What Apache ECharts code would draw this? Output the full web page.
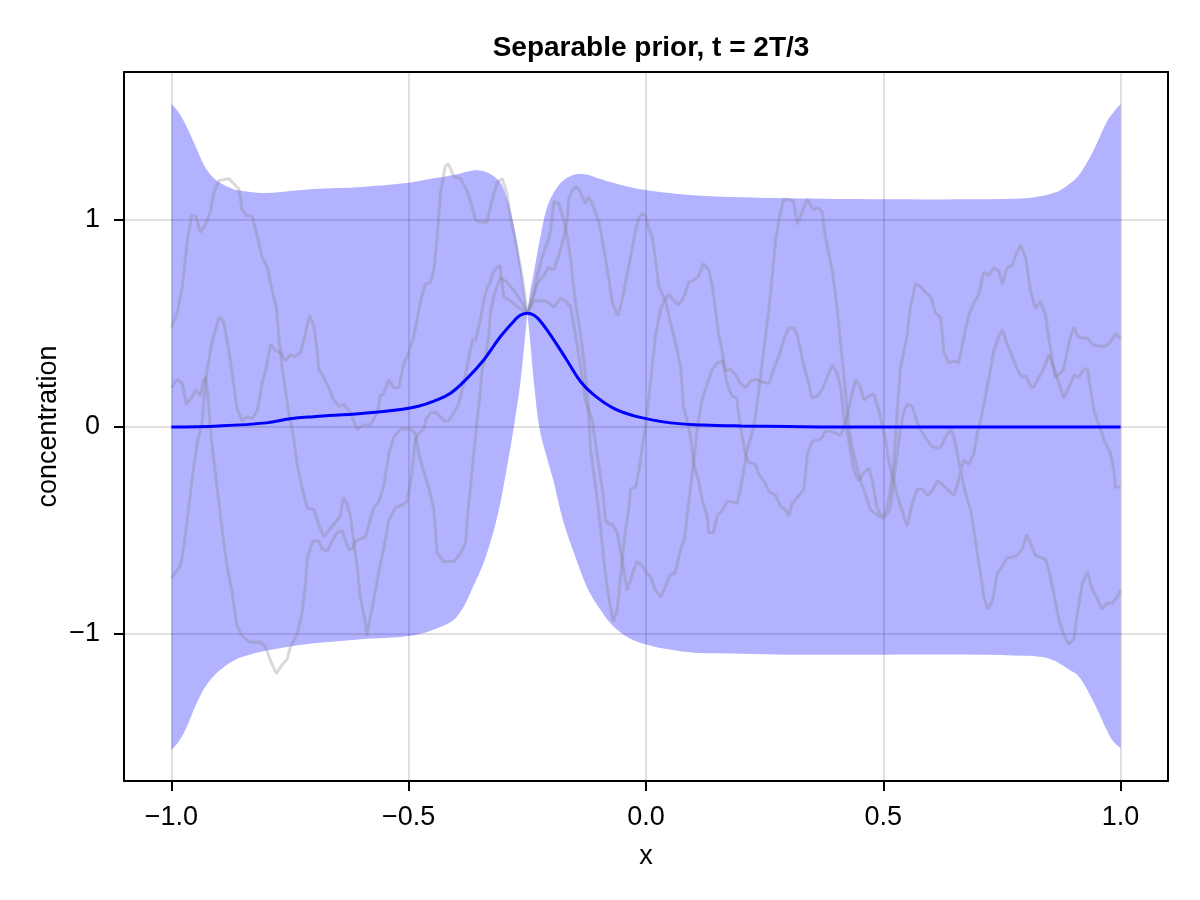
<!DOCTYPE html>
<html>
<head>
<meta charset="utf-8">
<script src="https://cdn.jsdelivr.net/npm/echarts@6/dist/echarts.min.js"></script>
<style>
  html, body { margin: 0; padding: 0; background: #fff; }
  #chart { width: 1200px; height: 900px; }
</style>
</head>
<body>
<div id="chart"></div>
<script>
// tick values
var xTicks = [-1, -0.5, 0, 0.5, 1];
var yTicks = [-1, 0, 1];

// uncertainty band (lower / upper) at shared x; pinches at x = -0.25
var bandX = [-1.00, -0.985, -0.97, -0.95, -0.93, -0.91, -0.89, -0.87, -0.85, -0.80, -0.75, -0.70, -0.60, -0.50, -0.45, -0.40, -0.36, -0.335, -0.31, -0.295, -0.28, -0.265, -0.25, -0.245, -0.236, -0.225, -0.21, -0.195, -0.175, -0.15, -0.125, -0.10, -0.07, -0.035, 0.00, 0.05, 0.10, 0.20, 0.30, 0.50, 0.70, 0.80, 0.83, 0.85, 0.87, 0.89, 0.91, 0.93, 0.95, 0.97, 0.985, 1.00];
var bandHi = [1.56, 1.52, 1.46, 1.36, 1.26, 1.20, 1.17, 1.15, 1.14, 1.13, 1.14, 1.15, 1.16, 1.18, 1.20, 1.22, 1.24, 1.23, 1.19, 1.12, 0.99, 0.79, 0.55, 0.64, 0.75, 0.89, 1.05, 1.13, 1.19, 1.22, 1.22, 1.20, 1.18, 1.16, 1.145, 1.13, 1.12, 1.11, 1.105, 1.10, 1.10, 1.105, 1.115, 1.125, 1.14, 1.17, 1.21, 1.28, 1.37, 1.47, 1.52, 1.56];
var bandLo = [-1.56, -1.52, -1.46, -1.35, -1.26, -1.20, -1.16, -1.13, -1.11, -1.08, -1.06, -1.045, -1.025, -1.01, -0.98, -0.92, -0.75, -0.61, -0.40, -0.22, -0.02, 0.21, 0.55, 0.44, 0.21, 0.00, -0.14, -0.26, -0.45, -0.62, -0.77, -0.87, -0.96, -1.02, -1.05, -1.075, -1.09, -1.095, -1.10, -1.10, -1.10, -1.105, -1.11, -1.12, -1.14, -1.17, -1.20, -1.27, -1.36, -1.46, -1.52, -1.55];
var pinchIndex = 22;

// posterior mean
var meanX = [-1.0, -0.9, -0.8, -0.75, -0.7, -0.6, -0.517, -0.48, -0.447, -0.412, -0.377, -0.342, -0.307, -0.279, -0.265, -0.25, -0.236, -0.222, -0.194, -0.166, -0.138, -0.11, -0.068, -0.019, 0.052, 0.12, 0.2, 0.3, 0.4, 0.6, 0.8, 1.0];
var meanY = [0.0, 0.005, 0.02, 0.04, 0.05, 0.065, 0.085, 0.10, 0.125, 0.163, 0.235, 0.324, 0.436, 0.51, 0.54, 0.55, 0.54, 0.51, 0.42, 0.32, 0.22, 0.155, 0.09, 0.05, 0.02, 0.01, 0.005, 0.002, 0, 0, 0, 0];

// prior samples, [x, y]
var sample1 = [[-1.000,0.48],[-0.988,0.55],[-0.977,0.68],[-0.967,0.89],[-0.958,1.02],[-0.949,1.02],[-0.939,0.94],[-0.928,0.98],[-0.918,1.04],[-0.911,1.13],[-0.900,1.19],[-0.879,1.20],[-0.858,1.15],[-0.851,1.05],[-0.840,1.02],[-0.830,1.02],[-0.819,0.92],[-0.809,0.82],[-0.798,0.77],[-0.788,0.66],[-0.779,0.58],[-0.774,0.44],[-0.767,0.29],[-0.760,0.18],[-0.753,0.07],[-0.746,-0.01],[-0.742,-0.06],[-0.735,-0.18],[-0.725,-0.29],[-0.714,-0.39],[-0.700,-0.40],[-0.690,-0.47],[-0.679,-0.53],[-0.669,-0.50],[-0.654,-0.46],[-0.644,-0.43],[-0.638,-0.34],[-0.630,-0.37],[-0.623,-0.43],[-0.616,-0.55],[-0.609,-0.67],[-0.602,-0.82],[-0.591,-0.95],[-0.588,-1.01],[-0.581,-0.92],[-0.570,-0.79],[-0.560,-0.66],[-0.553,-0.59],[-0.542,-0.45],[-0.528,-0.39],[-0.517,-0.38],[-0.503,-0.36],[-0.493,-0.22],[-0.486,-0.06],[-0.479,-0.03],[-0.468,-0.01],[-0.465,0.03],[-0.454,0.07],[-0.444,0.07],[-0.433,0.05],[-0.426,0.03],[-0.416,0.03],[-0.405,0.07],[-0.395,0.11],[-0.384,0.21],[-0.373,0.34],[-0.366,0.42],[-0.359,0.42],[-0.349,0.52],[-0.342,0.61],[-0.335,0.67],[-0.328,0.70],[-0.324,0.74],[-0.314,0.77],[-0.308,0.78],[-0.303,0.69],[-0.300,0.63],[-0.286,0.61],[-0.271,0.58],[-0.250,0.55],
  [-0.236,0.64],[-0.227,0.70],[-0.216,0.73],[-0.205,0.77],[-0.194,0.76],[-0.187,0.81],[-0.180,0.86],[-0.173,0.92],[-0.166,1.00],[-0.163,1.10],[-0.156,1.14],[-0.149,1.16],[-0.142,1.15],[-0.134,1.11],[-0.128,1.08],[-0.121,1.11],[-0.113,1.08],[-0.106,1.03],[-0.099,0.99],[-0.092,0.90],[-0.085,0.81],[-0.078,0.71],[-0.071,0.60],[-0.064,0.56],[-0.059,0.54],[-0.054,0.58],[-0.047,0.65],[-0.040,0.74],[-0.029,0.86],[-0.022,0.95],[-0.015,1.01],[-0.008,1.03],[-0.001,1.02],[0.006,0.96],[0.013,0.92],[0.020,0.81],[0.027,0.68],[0.041,0.61],[0.052,0.50],[0.062,0.41],[0.073,0.29],[0.079,0.10],[0.090,0.00],[0.094,-0.05],[0.101,-0.18],[0.111,-0.26],[0.118,-0.35],[0.129,-0.43],[0.132,-0.51],[0.142,-0.51],[0.150,-0.43],[0.161,-0.40],[0.171,-0.36],[0.182,-0.36],[0.192,-0.37],[0.199,-0.30],[0.206,-0.21],[0.213,-0.11],[0.227,0.00],[0.238,0.18],[0.248,0.37],[0.259,0.57],[0.266,0.73],[0.273,0.90],[0.280,1.00],[0.290,1.10],[0.301,1.10],[0.311,1.09],[0.319,0.98],[0.326,1.02],[0.333,1.06],[0.340,1.10],[0.347,1.07],[0.354,1.05],[0.361,1.06],[0.371,1.04],[0.378,0.92],[0.385,0.84],[0.392,0.76],[0.399,0.65],[0.406,0.50],[0.413,0.34],[0.420,0.18],[0.427,0.00],[0.435,-0.10],[0.442,-0.17],[0.452,-0.26],[0.463,-0.33],[0.473,-0.40],[0.491,-0.43],[0.501,-0.44],[0.508,-0.42],[0.515,-0.39],[0.519,-0.32],[0.522,-0.26],[0.529,-0.14],[0.536,-0.01],[0.543,0.07],[0.550,0.11],[0.561,0.10],[0.572,0.02],[0.578,-0.01],[0.589,-0.05],[0.600,-0.09],[0.610,-0.10],[0.621,-0.10],[0.631,-0.05],[0.642,-0.01],[0.649,-0.05],[0.656,-0.13],[0.663,-0.21],[0.670,-0.16],[0.680,-0.18],[0.691,-0.13],[0.698,-0.03],[0.705,0.03],[0.712,0.11],[0.722,0.23],[0.733,0.37],[0.744,0.44],[0.751,0.47],[0.761,0.40],[0.772,0.34],[0.782,0.28],[0.793,0.24],[0.800,0.25],[0.810,0.20],[0.817,0.19],[0.828,0.24],[0.838,0.28],[0.849,0.35],[0.859,0.29],[0.870,0.21],[0.880,0.14],[0.891,0.19],[0.902,0.25],[0.912,0.24],[0.923,0.28],[0.930,0.28],[0.937,0.18],[0.944,0.08],[0.951,0.03],[0.958,-0.01],[0.965,-0.06],[0.979,-0.13],[0.986,-0.21],[0.989,-0.29],[1.000,-0.29]];

var sample2 = [[-1.000,0.19],[-0.988,0.23],[-0.977,0.21],[-0.969,0.11],[-0.958,0.14],[-0.948,0.18],[-0.939,0.15],[-0.932,0.23],[-0.928,0.24],[-0.923,0.15],[-0.918,-0.01],[-0.914,-0.10],[-0.904,-0.29],[-0.893,-0.50],[-0.883,-0.67],[-0.872,-0.80],[-0.862,-0.96],[-0.851,-1.01],[-0.834,-1.04],[-0.812,-1.04],[-0.802,-1.06],[-0.791,-1.13],[-0.779,-1.19],[-0.767,-1.15],[-0.756,-1.12],[-0.749,-1.06],[-0.735,-1.00],[-0.725,-0.90],[-0.718,-0.77],[-0.714,-0.64],[-0.707,-0.58],[-0.700,-0.55],[-0.690,-0.55],[-0.682,-0.59],[-0.672,-0.60],[-0.661,-0.55],[-0.651,-0.51],[-0.640,-0.50],[-0.633,-0.55],[-0.626,-0.59],[-0.619,-0.59],[-0.612,-0.55],[-0.602,-0.54],[-0.591,-0.53],[-0.584,-0.47],[-0.574,-0.39],[-0.563,-0.36],[-0.553,-0.29],[-0.542,-0.13],[-0.532,-0.05],[-0.517,-0.01],[-0.496,-0.01],[-0.486,-0.03],[-0.479,-0.13],[-0.468,-0.22],[-0.458,-0.29],[-0.447,-0.40],[-0.440,-0.61],[-0.426,-0.65],[-0.405,-0.65],[-0.391,-0.61],[-0.380,-0.56],[-0.377,-0.45],[-0.370,-0.29],[-0.363,-0.13],[-0.356,0.03],[-0.349,0.18],[-0.345,0.28],[-0.338,0.34],[-0.331,0.45],[-0.328,0.55],[-0.321,0.63],[-0.314,0.68],[-0.307,0.72],[-0.293,0.70],[-0.286,0.68],[-0.275,0.65],[-0.261,0.60],[-0.250,0.55],
  [-0.236,0.65],[-0.229,0.73],[-0.219,0.82],[-0.208,0.89],[-0.201,0.95],[-0.194,1.09],[-0.184,1.08],[-0.173,1.00],[-0.166,0.92],[-0.159,0.81],[-0.149,0.61],[-0.138,0.45],[-0.128,0.26],[-0.121,0.07],[-0.117,-0.11],[-0.106,-0.29],[-0.096,-0.48],[-0.089,-0.64],[-0.082,-0.77],[-0.075,-0.87],[-0.069,-0.94],[-0.061,-0.89],[-0.057,-0.80],[-0.050,-0.64],[-0.043,-0.50],[-0.036,-0.39],[-0.033,-0.30],[-0.022,-0.29],[-0.015,-0.21],[-0.008,-0.10],[-0.001,0.00],[0.009,0.21],[0.020,0.44],[0.031,0.57],[0.038,0.61],[0.048,0.64],[0.059,0.61],[0.069,0.59],[0.080,0.63],[0.090,0.70],[0.101,0.71],[0.111,0.73],[0.121,0.79],[0.132,0.76],[0.140,0.68],[0.146,0.57],[0.153,0.45],[0.161,0.36],[0.168,0.24],[0.175,0.18],[0.182,0.15],[0.191,0.14],[0.196,0.05],[0.203,-0.05],[0.210,-0.14],[0.217,-0.17],[0.231,-0.18],[0.238,-0.23],[0.248,-0.26],[0.259,-0.31],[0.273,-0.33],[0.283,-0.38],[0.294,-0.40],[0.301,-0.43],[0.308,-0.37],[0.319,-0.34],[0.333,-0.30],[0.340,-0.13],[0.350,-0.07],[0.368,-0.06],[0.378,-0.02],[0.389,-0.02],[0.399,-0.03],[0.410,-0.04],[0.417,0.00],[0.424,0.05],[0.431,0.13],[0.442,0.23],[0.452,0.19],[0.459,0.13],[0.470,0.15],[0.480,0.16],[0.491,0.08],[0.498,0.00],[0.505,-0.06],[0.511,-0.16],[0.522,-0.26],[0.532,-0.35],[0.543,-0.43],[0.550,-0.48],[0.561,-0.37],[0.572,-0.30],[0.582,-0.30],[0.593,-0.33],[0.603,-0.31],[0.614,-0.26],[0.621,-0.27],[0.635,-0.30],[0.649,-0.33],[0.656,-0.28],[0.663,-0.21],[0.670,-0.29],[0.677,-0.35],[0.684,-0.40],[0.691,-0.50],[0.698,-0.61],[0.705,-0.71],[0.712,-0.82],[0.720,-0.88],[0.730,-0.84],[0.740,-0.71],[0.751,-0.67],[0.761,-0.63],[0.772,-0.63],[0.782,-0.62],[0.793,-0.59],[0.802,-0.52],[0.810,-0.56],[0.821,-0.62],[0.831,-0.63],[0.842,-0.64],[0.849,-0.69],[0.859,-0.80],[0.870,-0.93],[0.880,-1.00],[0.891,-1.05],[0.902,-1.02],[0.909,-0.90],[0.919,-0.76],[0.930,-0.70],[0.940,-0.78],[0.951,-0.83],[0.961,-0.88],[0.972,-0.85],[0.983,-0.85],[0.993,-0.82],[1.000,-0.79]];

var sample3 = [[-1.000,-0.73],[-0.981,-0.67],[-0.974,-0.58],[-0.967,-0.45],[-0.960,-0.32],[-0.953,-0.19],[-0.946,-0.08],[-0.935,0.03],[-0.928,0.23],[-0.918,0.37],[-0.911,0.44],[-0.900,0.53],[-0.890,0.51],[-0.879,0.37],[-0.869,0.21],[-0.862,0.09],[-0.851,0.03],[-0.840,0.05],[-0.830,0.04],[-0.819,0.08],[-0.809,0.21],[-0.798,0.31],[-0.791,0.40],[-0.781,0.37],[-0.770,0.36],[-0.760,0.32],[-0.749,0.35],[-0.739,0.34],[-0.728,0.36],[-0.718,0.45],[-0.709,0.54],[-0.700,0.49],[-0.693,0.37],[-0.690,0.28],[-0.679,0.24],[-0.668,0.19],[-0.658,0.13],[-0.647,0.10],[-0.637,0.11],[-0.623,0.07],[-0.609,-0.01],[-0.595,0.01],[-0.581,0.01],[-0.566,0.07],[-0.560,0.15],[-0.553,0.16],[-0.542,0.23],[-0.532,0.19],[-0.521,0.19],[-0.510,0.31],[-0.503,0.34],[-0.489,0.44],[-0.475,0.61],[-0.465,0.69],[-0.454,0.70],[-0.447,0.76],[-0.440,0.92],[-0.433,1.13],[-0.423,1.26],[-0.416,1.27],[-0.405,1.21],[-0.391,1.20],[-0.377,1.14],[-0.366,1.06],[-0.359,1.00],[-0.349,0.99],[-0.335,0.99],[-0.324,1.10],[-0.314,1.18],[-0.303,1.20],[-0.293,1.13],[-0.286,1.02],[-0.275,0.90],[-0.261,0.73],[-0.250,0.55],
  [-0.236,0.61],[-0.226,0.61],[-0.215,0.61],[-0.205,0.60],[-0.194,0.58],[-0.187,0.60],[-0.180,0.62],[-0.170,0.61],[-0.159,0.58],[-0.149,0.45],[-0.138,0.29],[-0.128,0.13],[-0.113,0.03],[-0.103,-0.13],[-0.092,-0.30],[-0.085,-0.45],[-0.078,-0.47],[-0.071,-0.47],[-0.061,-0.51],[-0.054,-0.59],[-0.047,-0.69],[-0.040,-0.79],[-0.033,-0.74],[-0.026,-0.69],[-0.019,-0.65],[-0.008,-0.67],[0.003,-0.71],[0.009,-0.72],[0.020,-0.79],[0.031,-0.82],[0.041,-0.77],[0.052,-0.71],[0.060,-0.71],[0.066,-0.66],[0.073,-0.59],[0.081,-0.54],[0.087,-0.42],[0.094,-0.29],[0.101,-0.16],[0.108,-0.01],[0.118,0.13],[0.129,0.21],[0.140,0.28],[0.150,0.31],[0.161,0.32],[0.168,0.27],[0.178,0.28],[0.189,0.25],[0.199,0.21],[0.210,0.19],[0.220,0.22],[0.231,0.23],[0.241,0.22],[0.259,0.21],[0.269,0.28],[0.280,0.34],[0.290,0.42],[0.301,0.48],[0.311,0.48],[0.319,0.44],[0.326,0.37],[0.333,0.29],[0.343,0.21],[0.350,0.14],[0.361,0.15],[0.371,0.18],[0.382,0.24],[0.392,0.30],[0.403,0.26],[0.410,0.19],[0.417,0.05],[0.427,-0.06],[0.438,-0.21],[0.448,-0.26],[0.459,-0.22],[0.470,-0.20],[0.477,-0.26],[0.487,-0.39],[0.494,-0.42],[0.501,-0.43],[0.508,-0.39],[0.515,-0.30],[0.522,-0.18],[0.529,0.07],[0.536,0.28],[0.543,0.36],[0.550,0.44],[0.557,0.58],[0.568,0.69],[0.578,0.68],[0.589,0.65],[0.600,0.63],[0.610,0.55],[0.621,0.53],[0.628,0.36],[0.638,0.31],[0.649,0.32],[0.659,0.31],[0.666,0.39],[0.673,0.47],[0.680,0.54],[0.691,0.60],[0.701,0.64],[0.712,0.75],[0.722,0.73],[0.733,0.77],[0.744,0.75],[0.751,0.69],[0.761,0.77],[0.772,0.78],[0.779,0.83],[0.789,0.88],[0.800,0.82],[0.810,0.66],[0.821,0.57],[0.831,0.61],[0.842,0.54],[0.846,0.47],[0.853,0.37],[0.859,0.28],[0.863,0.24],[0.873,0.26],[0.880,0.28],[0.888,0.37],[0.895,0.44],[0.902,0.48],[0.909,0.44],[0.919,0.43],[0.930,0.43],[0.940,0.40],[0.954,0.39],[0.968,0.39],[0.979,0.41],[0.989,0.45],[1.000,0.43]];

var FONT = 'Liberation Sans';
var myChart = echarts.init(document.getElementById('chart'));

function minusSign(v) {
    return String(v).replace('-', '\u2212');
}

function zip(xs, ys) {
    var out = [];
    for (var i = 0; i < xs.length; i++) out.push([xs[i], ys[i]]);
    return out;
}

// one half of the band as a closed, smoothed polygon.
// corner points are doubled so the bezier smoothing keeps them sharp.
function halfBand(api, from, to) {
    var pts = [];
    var i;
    for (i = from; i <= to; i++) {
        var p = api.coord([bandX[i], bandHi[i]]);
        pts.push(p);
        if (i === from || i === to) pts.push(p.slice());
    }
    for (i = to; i >= from; i--) {
        var q = api.coord([bandX[i], bandLo[i]]);
        pts.push(q);
        if (i === from || i === to) pts.push(q.slice());
    }
    return {
        type: 'polygon',
        shape: { points: pts, smooth: 0.35 },
        style: { fill: 'rgba(0,0,255,0.3)' }
    };
}

function renderBand(params, api) {
    return {
        type: 'group',
        children: [
            halfBand(api, 0, pinchIndex),
            halfBand(api, pinchIndex, bandX.length - 1)
        ]
    };
}

var sampleStyle = { color: 'rgba(128,128,128,0.3)', width: 3 };

var option = {
    animation: false,
    backgroundColor: '#ffffff',
    title: {
        text: 'Separable prior, t = 2T/3',
        left: 646,
        top: 29,
        textAlign: 'center',
        textStyle: { fontFamily: FONT, fontWeight: 'bold', fontSize: 28, color: '#000' }
    },
    grid: { left: 124, right: 32, top: 72, bottom: 119, containLabel: false },
    xAxis: [{
        type: 'value', min: -1.1, max: 1.1,
        name: 'x', nameLocation: 'middle', nameGap: 62, nameMoveOverlap: false,
        nameTextStyle: { fontFamily: FONT, fontSize: 27, color: '#000' },
        axisLine: { show: true, onZero: false, lineStyle: { color: '#000', width: 2 } },
        axisTick: { show: true, length: 10, customValues: xTicks, lineStyle: { color: '#000', width: 2 } },
        axisLabel: {
            customValues: xTicks, margin: 23,
            fontFamily: FONT, fontSize: 27, color: '#000',
            formatter: function (v) { return minusSign(v.toFixed(1)); }
        },
        splitLine: { show: true, lineStyle: { color: 'rgba(0,0,0,0.12)', width: 2 } }
    }, {
        type: 'value', min: -1.1, max: 1.1, position: 'top',
        axisLine: { show: true, onZero: false, lineStyle: { color: '#000', width: 2 } },
        axisTick: { show: false }, axisLabel: { show: false }, splitLine: { show: false }
    }],
    yAxis: [{
        type: 'value', min: -1.71, max: 1.715,
        name: 'concentration', nameLocation: 'middle', nameGap: 62, nameMoveOverlap: false,
        nameTextStyle: { fontFamily: FONT, fontSize: 27, color: '#000' },
        axisLine: { show: true, onZero: false, lineStyle: { color: '#000', width: 2 } },
        axisTick: { show: true, length: 10, customValues: yTicks, lineStyle: { color: '#000', width: 2 } },
        axisLabel: {
            customValues: yTicks, margin: 24,
            fontFamily: FONT, fontSize: 27, color: '#000',
            formatter: function (v) { return minusSign(v); }
        },
        splitLine: { show: true, lineStyle: { color: 'rgba(0,0,0,0.12)', width: 2 } }
    }, {
        type: 'value', min: -1.71, max: 1.715, position: 'right',
        axisLine: { show: true, onZero: false, lineStyle: { color: '#000', width: 2 } },
        axisTick: { show: false }, axisLabel: { show: false }, splitLine: { show: false }
    }],
    series: [
        {
            type: 'custom', name: 'band', renderItem: renderBand,
            data: [[0, 0]], clip: true, silent: true, z: 1
        },
        { type: 'line', data: sample1, showSymbol: false, lineStyle: sampleStyle, z: 2 },
        { type: 'line', data: sample2, showSymbol: false, lineStyle: sampleStyle, z: 2 },
        { type: 'line', data: sample3, showSymbol: false, lineStyle: sampleStyle, z: 2 },
        {
            type: 'line', name: 'mean', data: zip(meanX, meanY), smooth: 0.4,
            showSymbol: false, lineStyle: { color: '#0000ff', width: 3 }, z: 3
        }
    ]
};

myChart.setOption(option);
</script>
</body>
</html>
